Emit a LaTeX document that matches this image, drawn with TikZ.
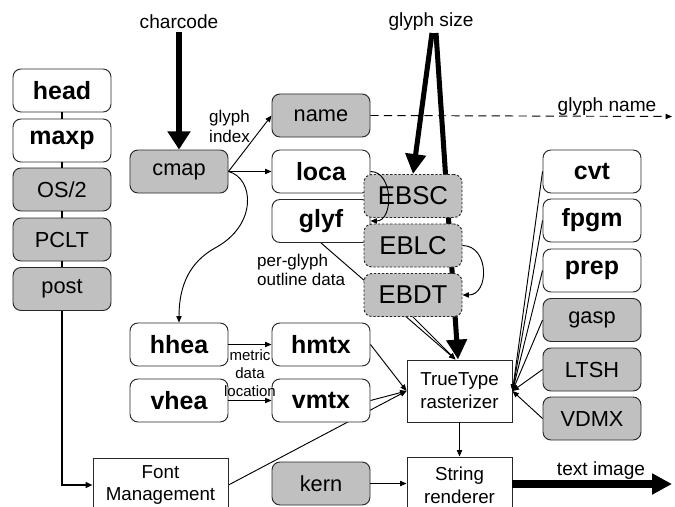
\documentclass[tikz,border=0pt]{standalone}
\usepackage{fontspec}
\setmainfont{Liberation Sans}
\usetikzlibrary{arrows.meta,backgrounds,calc}
\definecolor{tablegray}{RGB}{192,192,192}
\definecolor{edgegray}{RGB}{40,40,40}

\begin{document}
\begin{tikzpicture}[x=0.03cm,y=-0.03cm,
  tbl/.style={draw=edgegray,line width=0.8pt,rounded corners=6.8pt,
    minimum width=2.94cm,minimum height=1.29cm,inner sep=0pt},
  core/.style={tbl,fill=white,font=\fontsize{21.3}{24}\selectfont\bfseries},
  aux/.style={tbl,fill=tablegray,font=\fontsize{18.6}{22}\selectfont},
  bitmap/.style={tbl,fill=tablegray,dash pattern=on 2pt off 1.5pt,
    font=\fontsize{22}{26}\selectfont},
  stage/.style={draw=edgegray,line width=0.8pt,fill=white,inner sep=0pt,
    align=center,font=\fontsize{16}{19.5}\selectfont},
  tag/.style={inner sep=0pt,font=\fontsize{16.3}{19}\selectfont},
  remark/.style={inner sep=0pt,align=left,font=\fontsize{14.5}{16.5}\selectfont},
  link/.style={line width=0.8pt,-{Triangle[length=5.5pt,width=4.5pt]}},
  chain/.style={line width=1.6pt},
  feed/.style={line width=4.3pt,-{Triangle[length=17pt,width=17pt]}},
]
\path[use as bounding box] (0,0) rectangle (675,507);
\clip (0,0) rectangle (675,507);

% font-wide tables
\node[core] (head) at (62,90.5) {head};
\node[core] (maxp) at (62,140.5) {maxp};
\node[aux]  (os2)  at (62,189.5) {OS/2};
\node[aux]  (pclt) at (62,239.5) {PCLT};
\node[aux]  (post) at (62,289) {post};

% glyph lookup
\node[aux]  (cmap) at (179,171.5) {cmap};
\node[aux]  (name) at (321,115.5) {name};
\node[core] (loca) at (321,171.5) {loca};
\node[core] (glyf) at (321,221) {glyf};
\node[bitmap] (ebsc) at (413,196) {EBSC};
\node[bitmap] (eblc) at (413,245.5) {EBLC};
\node[bitmap] (ebdt) at (413,295) {EBDT};

% metrics
\node[core] (hhea) at (179,344.5) {hhea};
\node[core] (vhea) at (179,400.5) {vhea};
\node[core] (hmtx) at (321,344.5) {hmtx};
\node[core] (vmtx) at (321,400.5) {vmtx};

% hinting tables
\node[core] (cvt)  at (592,171.5) {cvt};
\node[core] (fpgm) at (592,220.5) {fpgm};
\node[core] (prep) at (592,270.5) {prep};
\node[aux]  (gasp) at (592,320) {gasp};
\node[aux]  (ltsh) at (592,369.5) {LTSH};
\node[aux]  (vdmx) at (592,418.5) {VDMX};

% processing stages
\node[stage,minimum width=3.15cm,minimum height=1.86cm] (tt) at (459.5,391) {TrueType\\rasterizer};
\node[stage,minimum width=3.15cm,minimum height=1.68cm] (sr) at (459.5,485) {String\\renderer};
\node[stage,minimum width=4.05cm,minimum height=1.62cm] (fm) at (160.5,485) {Font\\Management};
\node[aux] (kern) at (321,483.5) {kern};

% free ends of the input/output arrows
\coordinate (ccin) at (179,32);
\coordinate (gsa) at (432,33);
\coordinate (gsb) at (436,33);
\coordinate (gnout) at (672,116.5);
\coordinate (tiout) at (672,484);

% labels
\node[tag] at (179,21.5) {charcode};
\node[tag] at (431,22) {glyph size};
\node[tag] at (607,107) {glyph name};
\node[tag] at (601,471) {text image};
\node[remark,anchor=west] at (209,126.5) {glyph\\index};
\node[remark,anchor=west] at (257,270) {per-glyph\\outline data};
\node[inner sep=0pt,align=center,font=\fontsize{12.8}{15.4}\selectfont] at (250,373.5) {metric\\data\\location};

% white page and the lines running behind the tables
\begin{scope}[on background layer]
  \fill[white] (0,0) rectangle (675,507);
  \draw[feed] (gsb) -- ($(tt.north)+(-1.5,0)$);
  \draw[link] (glyf.south) -- ($(tt.north)+(-4,0)$);
  \draw[link] (fm.east) -- (tt.west);
\end{scope}

% table column links
\draw[chain] (head) -- (maxp);
\draw[chain] (maxp) -- (os2);
\draw[chain] (os2) -- (pclt);
\draw[chain] (pclt) -- (post);
\draw[chain,-{Triangle[length=6pt,width=5pt]}] (post.south) |- (fm.west);

% inputs
\draw[line width=5.1pt,-{Triangle[length=15.4pt,width=18.8pt]}] (ccin) -- (cmap.north);
\draw[feed] (gsa) -- (ebsc.north);

% glyph lookup
\draw[link] (cmap.east) -- (name.west);
\draw[link] (cmap.east) -- (loca.west);
\draw[link] (cmap.east) .. controls (254,178) and (258,225) .. (215,248)
  .. controls (190,262) and (179,285) .. (hhea.north);
\draw[link] (loca.east) to[out=0,in=0,looseness=1.2] (glyf.east);
\draw[link] (eblc.east) to[out=0,in=0,looseness=1.4] (ebdt.east);
\draw[link] (ebdt.south) -- ($(tt.north)+(-4,0)$);
\draw[link,dash pattern=on 7pt off 4.5pt] (name.east) -- (gnout);

% metrics
\draw[link] (hhea) -- (hmtx);
\draw[link] (vhea) -- (vmtx);
\draw[link] (hmtx.east) -- (tt.west);
\draw[link] (vmtx.east) -- (tt.west);

% hinting tables
\foreach \t in {cvt,fpgm,prep,gasp,ltsh,vdmx}
  \draw[link] (\t.west) -- (tt.east);

% rendering
\draw[link] (tt) -- (sr);
\draw[link] (kern.east) -- (kern.east -| sr.west);
\draw[line width=6pt,-{Triangle[length=17pt,width=17pt]}] (sr.east |- tiout) -- (tiout);
\end{tikzpicture}
\end{document}
